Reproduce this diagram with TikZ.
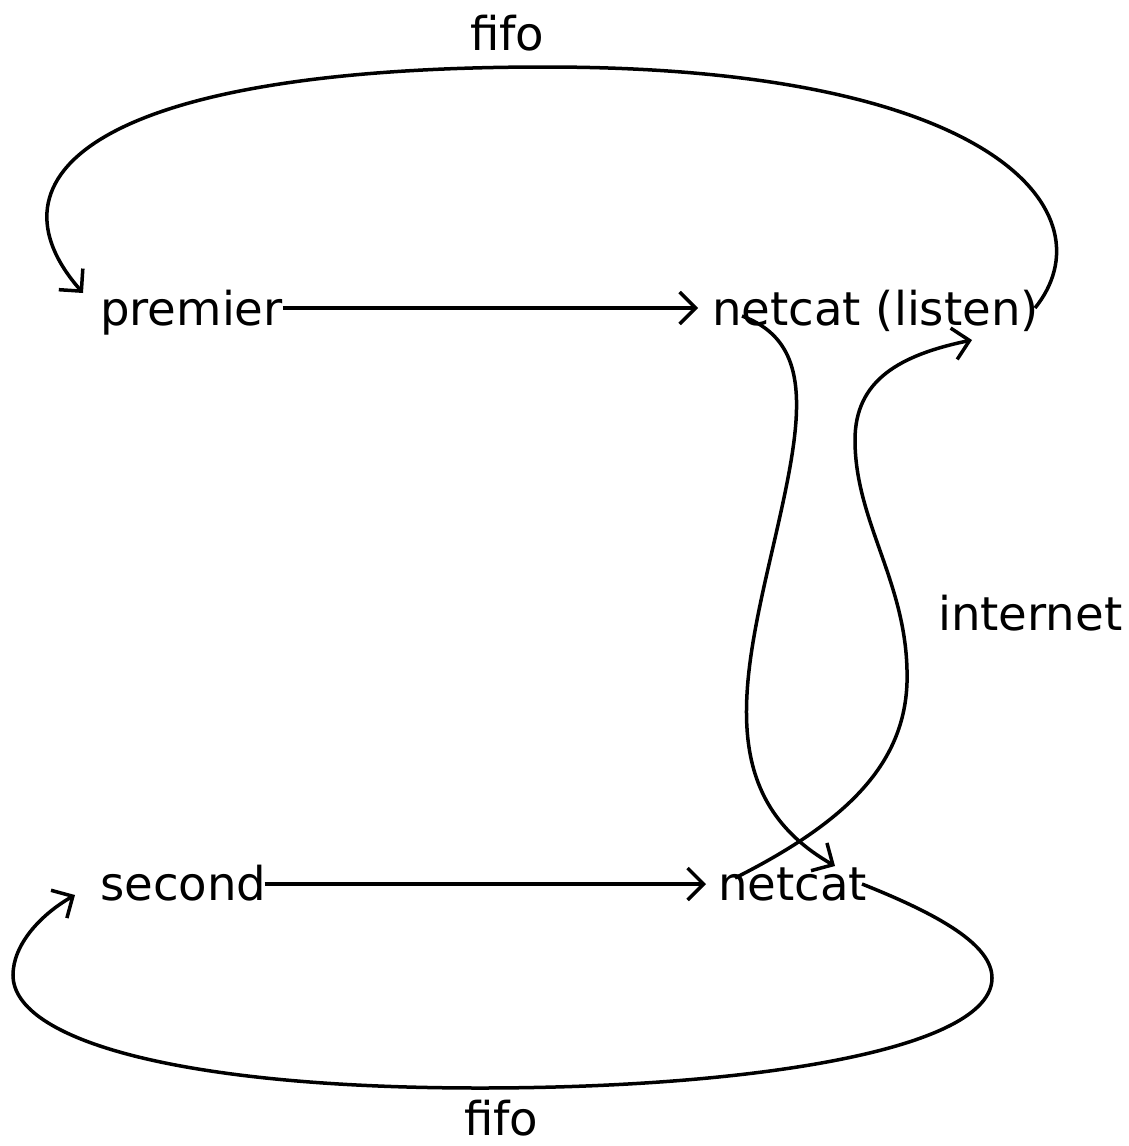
\documentclass[tikz,border=0pt]{standalone}
\usepackage{fontspec}
\setmainfont{DejaVu Sans}
\usetikzlibrary{arrows.meta}
\begin{document}
\begin{tikzpicture}[x=1pt,y=-1pt,
  lbl/.style={anchor=base west,inner sep=0pt,font=\fontsize{46.6}{56}\selectfont},
  arr/.style={line width=3.5pt,-{Straight Barb[length=16pt,width=32pt]}}]
\useasboundingbox (0,0) rectangle (1129,1146);
\node[lbl] (premier) at (100,325) {premier};
\node[lbl] (listen) at (712,325) {netcat (listen)};
\node[lbl] (second) at (100,900) {second};
\node[lbl] (netcat) at (718,900) {netcat};
\node[lbl] (internet) at (938,630) {internet};
\node[lbl] (fifotop) at (470,50) {fifo};
\node[lbl] (fifobot) at (464,1135) {fifo};
% anchor points of curves
\coordinate (lr) at (1035,308);
\coordinate (pin) at (83,293);
\coordinate (nr) at (862,884);
\coordinate (sin) at (75,895);
\coordinate (lo) at (742,316);
\coordinate (nin) at (835,866);
\coordinate (no) at (735,878);
\coordinate (lin) at (972,340);
% straight arrows
\draw[arr,shorten >=14pt] ([yshift=17pt]premier.base east) -- ([yshift=17pt]listen.base west);
\draw[arr,shorten >=12pt,shorten <=-2pt] ([yshift=16pt]second.base east) -- ([yshift=16pt]netcat.base west);
% top fifo
\draw[arr] (lr) .. controls (1110,215) and (1000,67) .. (545,67)
  .. controls (90,67) and (-18,178) .. (pin);
% bottom fifo
\draw[arr] (nr) .. controls (940,915) and (992,945) .. (992,978)
  .. controls (992,1050) and (750,1088) .. (480,1088)
  .. controls (180,1088) and (13,1040) .. (13,975)
  .. controls (13,945) and (40,915) .. (sin);
% listen -> netcat
\draw[arr] (lo) .. controls (820,345) and (800,430) .. (770,560)
  .. controls (740,690) and (720,800) .. (nin);
% netcat -> listen
\draw[arr] (no) .. controls (850,820) and (910,760) .. (907,670)
  .. controls (905,580) and (855,520) .. (855,440)
  .. controls (855,380) and (900,355) .. (lin);
\end{tikzpicture}
\end{document}
